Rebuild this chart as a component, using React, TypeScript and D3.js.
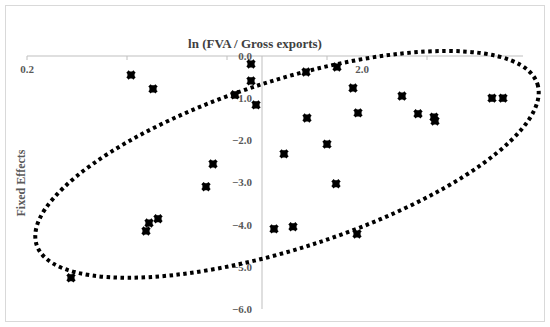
import React, { useEffect, useRef } from 'react';
import * as d3 from 'd3';

// points: ln(FVA / Gross exports) vs fixed effects
const xValues = [-2.62, -2.18, -0.54, -0.22, -0.22, -0.12, 0.88, 1.5, 1.82, 1.92, 0.9, 0.44, 1.3, 1.48, 0.24, 0.62, 1.9, -0.98, -1.12, -2.08, -2.26, -2.32, -3.82, 2.8, 3.12, 3.44, 3.46, 4.6, 4.82];
const yValues = [-0.45, -0.78, -0.92, -0.19, -0.59, -1.16, -0.38, -0.26, -0.76, -1.35, -1.47, -2.32, -2.09, -3.03, -4.1, -4.05, -4.22, -2.56, -3.1, -3.86, -3.96, -4.15, -5.26, -0.95, -1.37, -1.45, -1.54, -1.0, -1.0];

const yTicks = [0, -1, -2, -3, -4, -5, -6];
const xTickMarks = [-4.7, -2.7, -0.7, 1.3, 3.3];
const xLabels = [
  { v: -4.7, text: '0.2' },
  { v: 2.0, text: '2.0' },
];

const W = 550;
const H = 327;

const App = () => {
  const ref = useRef<SVGSVGElement>(null);

  useEffect(() => {
    const svg = d3.select(ref.current);
    svg.selectAll('*').remove();

    const x = d3.scaleLinear().domain([-4.7, 5.22]).range([27, 523]);
    const y = d3.scaleLinear().domain([0, -6]).range([56, 309]);

    // chart border
    svg.append('rect')
      .attr('x', 5.5).attr('y', 5.5)
      .attr('width', 539).attr('height', 316)
      .attr('fill', '#fff')
      .attr('stroke', '#d9d9d9');

    // axes
    svg.append('line')
      .attr('x1', x(-4.7)).attr('x2', x(5.22))
      .attr('y1', y(0)).attr('y2', y(0))
      .attr('stroke', '#bfbfbf');
    svg.append('line')
      .attr('x1', x(0)).attr('x2', x(0))
      .attr('y1', y(0)).attr('y2', y(-6))
      .attr('stroke', '#bfbfbf');

    svg.selectAll('.xt')
      .data(xTickMarks)
      .enter()
      .append('line')
      .attr('x1', (d) => x(d)).attr('x2', (d) => x(d))
      .attr('y1', y(0)).attr('y2', y(0) + 4)
      .attr('stroke', '#bfbfbf');

    const labelFont = "'Liberation Serif', 'DejaVu Serif', serif";

    svg.selectAll('.yl')
      .data(yTicks)
      .enter()
      .append('text')
      .attr('x', x(0) - 10)
      .attr('y', (d) => y(d))
      .attr('dy', '0.35em')
      .attr('text-anchor', 'end')
      .attr('font-family', labelFont)
      .attr('font-size', 11)
      .attr('font-weight', 'bold')
      .attr('fill', '#595959')
      .text((d) => (d === 0 ? '0.0' : '\u2212' + Math.abs(d).toFixed(1)));

    svg.selectAll('.xl')
      .data(xLabels)
      .enter()
      .append('text')
      .attr('x', (d) => x(d.v))
      .attr('y', y(0) + 17)
      .attr('text-anchor', 'middle')
      .attr('font-family', labelFont)
      .attr('font-size', 11)
      .attr('font-weight', 'bold')
      .attr('fill', '#595959')
      .text((d) => d.text);

    // titles
    svg.append('text')
      .attr('x', 255).attr('y', 48)
      .attr('text-anchor', 'middle')
      .attr('font-family', labelFont)
      .attr('font-size', 13)
      .attr('font-weight', 'bold')
      .attr('fill', '#404040')
      .text('ln (FVA / Gross exports)');

    svg.append('text')
      .attr('transform', 'translate(25, 183) rotate(-90)')
      .attr('text-anchor', 'middle')
      .attr('font-family', labelFont)
      .attr('font-size', 12)
      .attr('font-weight', 'bold')
      .attr('fill', '#595959')
      .text('Fixed Effects');

    // dotted ellipse around the cloud
    const ecx = x(0.5);
    const ecy = y(-2.57);
    svg.append('ellipse')
      .attr('cx', ecx).attr('cy', ecy)
      .attr('rx', 263).attr('ry', 84)
      .attr('transform', `rotate(-17.8, ${ecx}, ${ecy})`)
      .attr('fill', 'none')
      .attr('stroke', '#000')
      .attr('stroke-width', 4)
      .attr('stroke-dasharray', '3.5 3.5');

    // markers
    const cross = d3.symbol().type(d3.symbolCross).size(55)();
    const plus = d3.symbol().type(d3.symbolCross).size(28)();
    const pts = xValues.map((v, i) => [v, yValues[i]]);
    const g = svg.selectAll('.pt')
      .data(pts)
      .enter()
      .append('g')
      .attr('transform', (d) => `translate(${x(d[0])}, ${y(d[1])})`);
    g.append('path').attr('d', cross).attr('transform', 'rotate(45)').attr('fill', '#000');
    g.append('path').attr('d', plus).attr('fill', '#000');
  }, []);

  return (
    <svg
      ref={ref}
      width={W}
      height={H}
      style={{ position: 'absolute', left: 0, top: 0, background: '#fff' }}
    />
  );
};

export default App;
